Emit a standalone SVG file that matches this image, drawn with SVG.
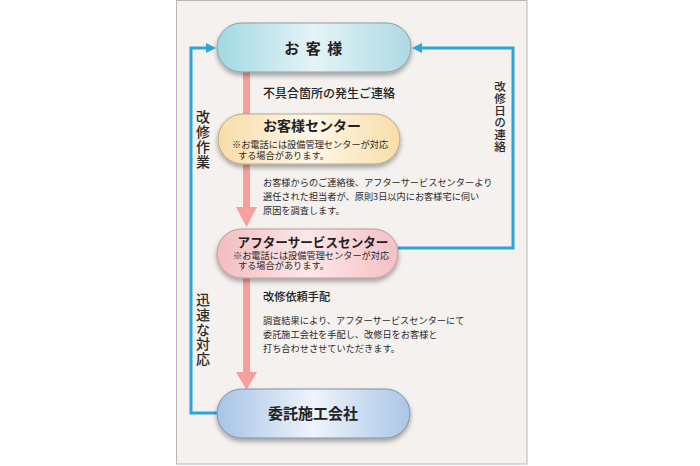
<svg xmlns="http://www.w3.org/2000/svg" width="700" height="466" viewBox="0 0 700 466">
<defs>
<style>
.t{font-family:"Noto Sans CJK JP","Noto Sans",sans-serif;fill:#222}
.ttl{font-weight:700;text-anchor:middle}
.hd{font-weight:700;text-anchor:middle;fill:#222}
.note{font-size:9.2px;fill:#2a2a2a;text-anchor:start;font-weight:400}
.body{font-size:9.2px;fill:#2a2a2a}
.lbl{fill:#222;font-weight:500}
.vt{fill:#2a2a2a;font-weight:500;writing-mode:vertical-rl}
.node{stroke-width:1}
.blue{fill:none;stroke:#2aa6d9;stroke-width:3}
.pink{fill:#f5a09c}
</style>
<linearGradient id="gCyan" x1="0" y1="0" x2="1" y2="0">
<stop offset="0" stop-color="#a2d8e2"/><stop offset="0.5" stop-color="#e4f4f7"/><stop offset="1" stop-color="#add9e3"/>
</linearGradient>
<linearGradient id="gCream" x1="0" y1="0" x2="1" y2="0">
<stop offset="0" stop-color="#f7dca5"/><stop offset="0.5" stop-color="#fff8ea"/><stop offset="1" stop-color="#f8dda8"/>
</linearGradient>
<linearGradient id="gPink" x1="0" y1="0" x2="1" y2="0">
<stop offset="0" stop-color="#f3bcc1"/><stop offset="0.5" stop-color="#fde7e9"/><stop offset="1" stop-color="#f4c0c5"/>
</linearGradient>
<linearGradient id="gBlue" x1="0" y1="0" x2="1" y2="0">
<stop offset="0" stop-color="#a6c3e6"/><stop offset="0.5" stop-color="#eef4fb"/><stop offset="1" stop-color="#aac6e7"/>
</linearGradient>
<filter id="sh" x="-10%" y="-20%" width="120%" height="160%">
<feGaussianBlur in="SourceAlpha" stdDeviation="2.5"/>
<feOffset dy="3" result="b"/>
<feComponentTransfer><feFuncA type="linear" slope="0.35"/></feComponentTransfer>
<feMerge><feMergeNode/><feMergeNode in="SourceGraphic"/></feMerge>
</filter>
<marker id="ah" markerUnits="userSpaceOnUse" markerWidth="10" markerHeight="10" refX="1" refY="5" orient="auto">
<path d="M0,0 L10,5 L0,10 z" fill="#2aa6d9"/>
</marker>
</defs>
<rect x="0" y="0" width="700" height="466" fill="#ffffff"/>
<rect x="176.5" y="0.5" width="350.5" height="463.5" fill="#f4f1ee" stroke="#b9b6b3" stroke-width="1"/>

<g id="connectors">
<rect class="pink" x="243" y="70" width="7" height="138"/>
<polygon class="pink" points="236,207 257,207 246.5,227"/>
<rect class="pink" x="243" y="276" width="7" height="97"/>
<polygon class="pink" points="236,372 257,372 246.5,390"/>
<path class="blue" d="M218,413 H191 V48 H207" marker-end="url(#ah)"/>
<path class="blue" d="M398,248 H513 V48 H421" marker-end="url(#ah)"/>
<g id="label-kaishu-sagyo">
<text class="t vt" font-size="14" letter-spacing="1" x="203" y="110">改修作業</text>
</g>
<g id="label-jinsoku">
<text class="t vt" font-size="14" letter-spacing="0.6" x="203" y="293">迅速な対応</text>
</g>
<g id="label-kaishubi">
<text class="t vt" font-size="11.6" letter-spacing="0.4" x="500" y="81">改修日の連絡</text>
</g>
<g id="label-step1">
<text class="t lbl" font-size="12" x="263" y="97.5">不具合箇所の発生ご連絡</text>
</g>
<g id="label-step2">
<text class="t body"><tspan x="263" y="185.5">お客様からのご連絡後、アフターサービスセンターより</tspan><tspan x="263" y="199.5">選任された担当者が、原則3日以内にお客様宅に伺い</tspan><tspan x="263" y="213.5">原因を調査します。</tspan></text>
</g>
<g id="label-step3">
<text class="t lbl" font-size="11.2" x="263" y="301">改修依頼手配</text>
<text class="t body"><tspan x="263" y="323.5">調査結果により、アフターサービスセンターにて</tspan><tspan x="263" y="337.5">委託施工会社を手配し、改修日をお客様と</tspan><tspan x="263" y="351.5">打ち合わせさせていただきます。</tspan></text>
</g>
</g>

<g id="node-okyakusama">
<rect class="node" x="217" y="23" width="194" height="49" rx="24.5" fill="url(#gCyan)" stroke="#8d9ea3" filter="url(#sh)"/>
<text class="t ttl" x="314" y="53.5" font-size="15" letter-spacing="1.5">お 客 様</text>
</g>

<g id="node-center">
<rect class="node" x="218" y="114" width="182" height="50" rx="25" fill="url(#gCream)" stroke="#b5a88e" filter="url(#sh)"/>
<text class="t"><tspan class="hd" x="312" y="130.5" font-size="14">お客様センター</tspan><tspan class="note" x="232" y="147.5">※お電話には設備管理センターが対応</tspan><tspan class="note" x="238" y="158.5">する場合があります。</tspan></text>
</g>

<g id="node-afterservice">
<rect class="node" x="217" y="229" width="181" height="49" rx="24.5" fill="url(#gPink)" stroke="#b89a9d" filter="url(#sh)"/>
<text class="t"><tspan class="hd" x="313" y="247" font-size="12.6">アフターサービスセンター</tspan><tspan class="note" x="233" y="258.5">※お電話には設備管理センターが対応</tspan><tspan class="note" x="238" y="268.5">する場合があります。</tspan></text>
</g>

<g id="node-itaku">
<rect class="node" x="217" y="389" width="193" height="49" rx="24.5" fill="url(#gBlue)" stroke="#7f90a6" filter="url(#sh)"/>
<text class="t ttl" x="313" y="419" font-size="15">委託施工会社</text>
</g>
</svg>
